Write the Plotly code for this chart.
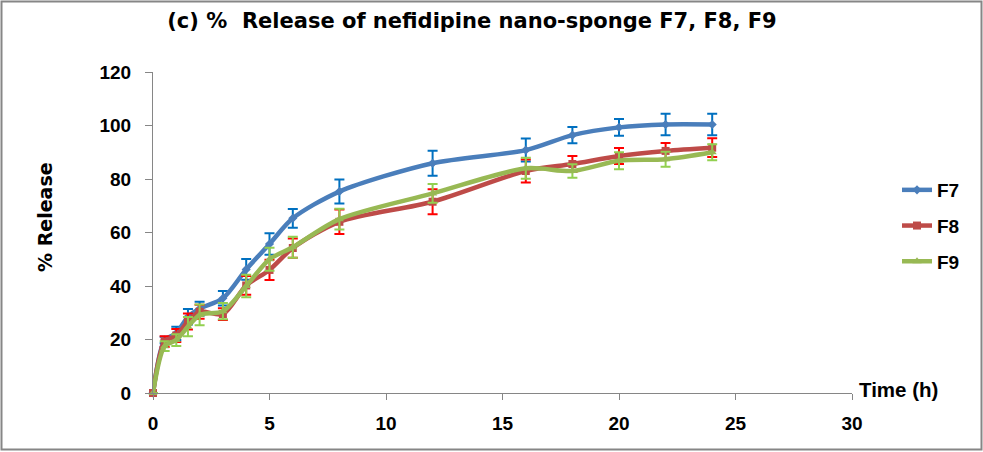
import plotly.graph_objects as go

time_h = [0, 0.5, 1, 1.5, 2, 3, 4, 5, 6, 8, 12, 16, 18, 20, 22, 24]
f7 = [0, 19.8, 22.3, 28.5, 31.5, 35.4, 46.2, 55.7, 65.3, 75.3, 85.9, 90.8, 96.4, 99.3, 100.4, 100.4]
f7_err = [0, 1.2, 2.5, 2.9, 2.6, 2.7, 3.9, 4.0, 3.5, 4.5, 4.7, 4.3, 3.0, 3.1, 4.0, 4.0]
f8 = [0, 19.2, 21.5, 26.7, 30.4, 29.5, 40.2, 46.0, 54.2, 64.0, 71.5, 83.0, 85.6, 88.6, 90.5, 91.7]
f8_err = [0, 2.0, 2.4, 3.0, 2.6, 2.2, 3.5, 3.8, 3.6, 4.6, 4.7, 4.3, 3.0, 3.0, 3.0, 3.5]
f9 = [0, 17.5, 19.8, 24.8, 29.2, 30.6, 40.0, 50.0, 54.5, 65.0, 74.6, 84.0, 83.0, 86.8, 87.4, 90.0]
f9_err = [0, 1.8, 2.2, 3.6, 3.9, 3.0, 4.2, 4.3, 3.9, 3.9, 3.5, 3.9, 2.5, 3.2, 2.8, 3.0]

names = ["F7", "F8", "F9"]
x_ticks = [0, 5, 10, 15, 20, 25, 30]
y_ticks = [0, 20, 40, 60, 80, 100, 120]

FONT = "Liberation Sans, Arial, sans-serif"
TFONT = "DejaVu Sans, Liberation Sans, sans-serif"
W, H = 983, 452
ML, MR, MT, MB = 153, 131, 72, 59

series = [
    (names[0], f7, f7_err, "#4A7EBB", "#0070C0", "diamond", 7),
    (names[1], f8, f8_err, "#BE4B48", "#FF0000", "square", 8),
    (names[2], f9, f9_err, "#98B954", "#92D050", "triangle-up", 8),
]

fig = go.Figure()
for i, (nm, ys, es, lc, ec, sym, ms) in enumerate(series):
    fig.add_trace(go.Scatter(
        x=time_h, y=ys, name=nm, mode="lines+markers",
        legendgroup=nm,
        line=dict(color=lc, width=4.5, shape="spline", smoothing=0.8),
        marker=dict(symbol=sym, size=ms, color=lc),
        error_y=dict(type="data", array=es, visible=True, color=ec,
                     thickness=2, width=5),
        cliponaxis=False,
    ))

pw = W - ML - MR
ph = H - MT - MB

fig.update_layout(
    width=W, height=H,
    margin=dict(l=ML, r=MR, t=MT, b=MB),
    paper_bgcolor="white", plot_bgcolor="white",
    font=dict(family=FONT, color="black"),
    title=dict(text="(c) %&nbsp; Release of nefidipine nano-sponge F7, F8, F9",
               x=472 / W, xanchor="center", y=1 - 21 / H, yanchor="middle",
               font=dict(size=21, weight="bold", family=TFONT)),
    showlegend=True,
    legend=dict(x=(897 - ML) / pw, xanchor="left", y=(H - MB - 226) / ph, yanchor="middle",
                font=dict(size=19, weight="bold", family=FONT),
                traceorder="grouped", tracegroupgap=8,
                bgcolor="rgba(0,0,0,0)"),
    xaxis=dict(range=[0, 30], tickvals=x_ticks, ticktext=[str(v) for v in x_ticks],
               showgrid=False, zeroline=False, showline=True, linecolor="#868686",
               linewidth=1, ticks="outside", ticklen=6, tickcolor="#868686",
               ticklabelstandoff=7,
               tickfont=dict(size=19, weight="bold", family=FONT)),
    yaxis=dict(range=[0, 120], tickvals=y_ticks, ticktext=[str(v) for v in y_ticks],
               showgrid=False, zeroline=False, showline=True, linecolor="#868686",
               linewidth=1, ticks="outside", ticklen=7, tickcolor="#868686",
               ticklabelstandoff=10,
               tickfont=dict(size=19, weight="bold", family=FONT)),
    annotations=[
        dict(text="% Release", textangle=-90, xref="paper", yref="paper",
             x=-(ML - 45) / pw, y=(H - MB - 217) / ph, xanchor="center", yanchor="middle",
             showarrow=False, font=dict(size=19, weight="bold", family=TFONT)),
        dict(text="Time (h)", xref="paper", yref="paper",
             x=(857 - ML) / pw, y=(H - MB - 389) / ph, xanchor="left", yanchor="middle",
             showarrow=False, font=dict(size=20.5, weight="bold", family=FONT)),
    ],
    shapes=[
        dict(type="rect", xref="paper", yref="paper",
             x0=-(ML - 1.5) / pw, x1=(W - ML - 1.5) / pw,
             y0=-(MB - 2.5) / ph, y1=(H - MB - 1.5) / ph,
             line=dict(color="#868686", width=2), fillcolor="rgba(0,0,0,0)", layer="below"),
    ],
)

fig.write_html("out.html", config={"displayModeBar": False},
               post_script="document.body.style.margin='0';document.body.style.overflow='hidden';")
